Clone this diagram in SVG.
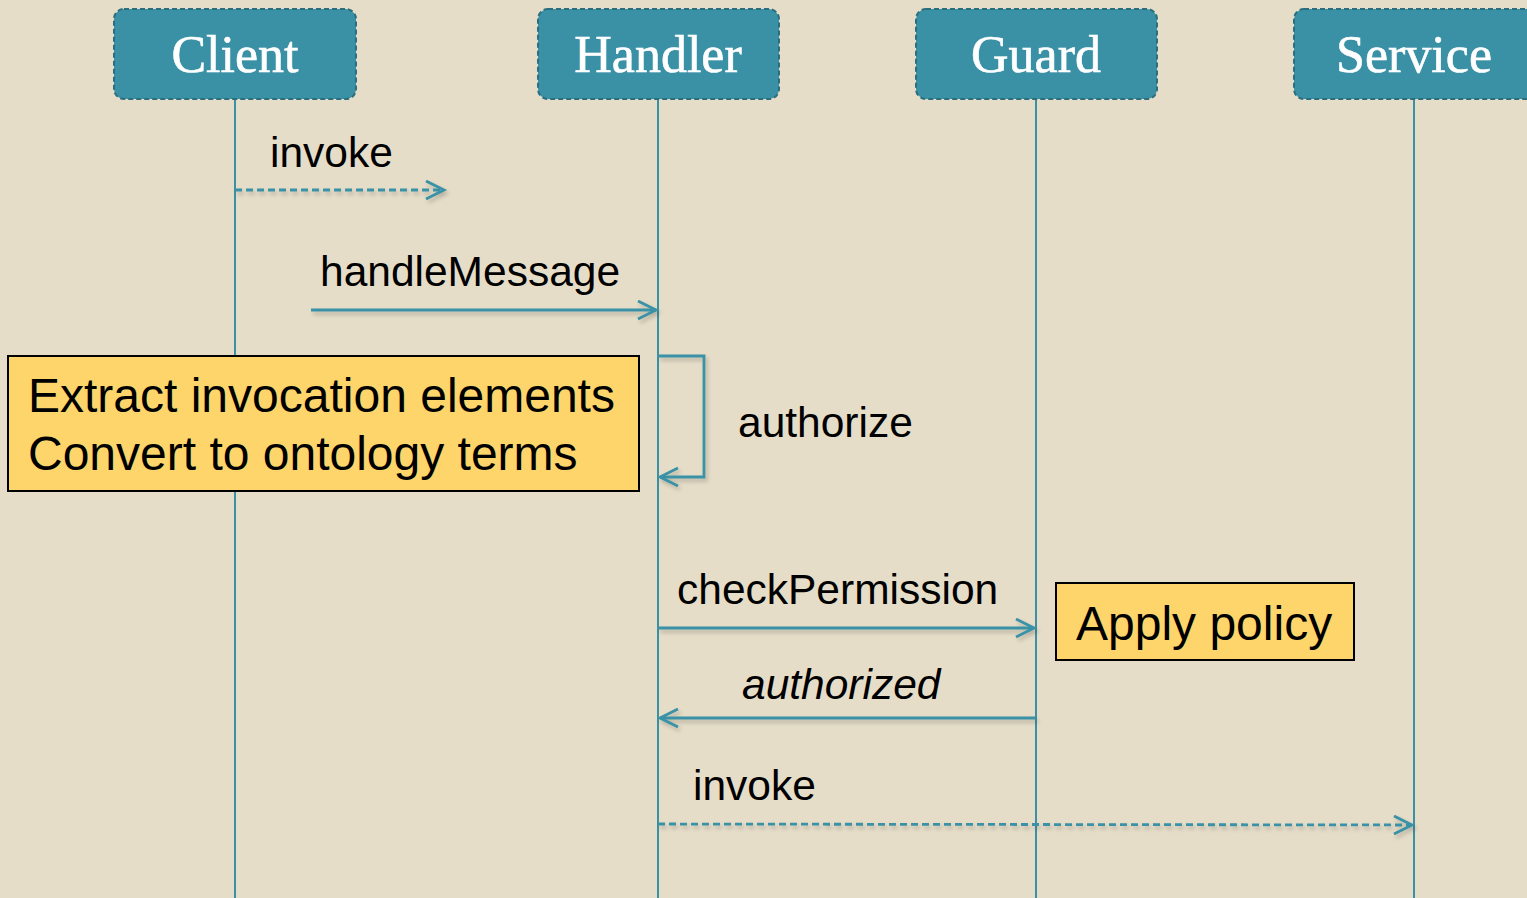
<svg xmlns="http://www.w3.org/2000/svg" width="1527" height="898" viewBox="0 0 1527 898">
  <style>
    .head rect { fill: #3A91A6; stroke: #2A6E7F; stroke-width: 2; stroke-dasharray: 5 3; }
    .head text { font-family: "Liberation Serif", "DejaVu Serif", serif; font-size: 52px; fill: #FFFFFF; stroke: #FFFFFF; stroke-width: 0.6; text-anchor: middle; }
    .life { stroke: #3A91A6; stroke-width: 2; fill: none; }
    .msg { stroke: #3A91A6; stroke-width: 2.8; fill: none; }
    .dash { stroke-dasharray: 7 4; }
    .lbl { font-family: "Liberation Sans", Arial, sans-serif; font-size: 42.5px; fill: #000; }
    .note rect { fill: #FDD56B; stroke: #000; stroke-width: 2; }
    .note text { font-family: "Liberation Sans", Arial, sans-serif; font-size: 48px; fill: #000; }
  </style>
  <defs>
    <marker id="open" markerUnits="userSpaceOnUse" markerWidth="24" markerHeight="24" refX="20" refY="10" orient="auto">
      <path d="M2,1 L20,10 L2,19" fill="none" stroke="#3A91A6" stroke-width="2.8"/>
    </marker>
    <filter id="shade" filterUnits="userSpaceOnUse" x="0" y="0" width="1527" height="898">
      <feGaussianBlur in="SourceAlpha" stdDeviation="2"/>
      <feOffset dx="2" dy="3" result="b"/>
      <feComponentTransfer><feFuncA type="linear" slope="0.22"/></feComponentTransfer>
      <feMerge><feMergeNode/><feMergeNode in="SourceGraphic"/></feMerge>
    </filter>
  </defs>

  <rect width="1527" height="898" fill="#E5DDC8"/>

  <!-- lifelines -->
  <g id="lifelines">
    <line class="life" x1="235" y1="99" x2="235" y2="898"/>
    <line class="life" x1="658" y1="99" x2="658" y2="898"/>
    <line class="life" x1="1036" y1="99" x2="1036" y2="898"/>
    <line class="life" x1="1414" y1="99" x2="1414" y2="898"/>
  </g>

  <!-- participants -->
  <g id="client" class="head">
    <rect x="114" y="9" width="242" height="90" rx="10"/>
    <text x="235" y="72">Client</text>
  </g>
  <g id="handler" class="head">
    <rect x="538" y="9" width="241" height="90" rx="10"/>
    <text x="658" y="72">Handler</text>
  </g>
  <g id="guard" class="head">
    <rect x="916" y="9" width="241" height="90" rx="10"/>
    <text x="1036" y="72">Guard</text>
  </g>
  <g id="service" class="head">
    <rect x="1294" y="9" width="245" height="90" rx="10"/>
    <text x="1414" y="72">Service</text>
  </g>

  <!-- messages -->
  <g id="connectors" filter="url(#shade)">
    <line class="msg dash" x1="235" y1="190" x2="444" y2="190" marker-end="url(#open)"/>
    <line class="msg" x1="311" y1="310" x2="656" y2="310" marker-end="url(#open)"/>
    <polyline class="msg" points="658,356 704,356 704,477 660,477" marker-end="url(#open)"/>
    <line class="msg" x1="658" y1="628" x2="1034" y2="628" marker-end="url(#open)"/>
    <line class="msg" x1="1036" y1="718" x2="660" y2="718" marker-end="url(#open)"/>
    <line class="msg dash" x1="658" y1="824" x2="1412" y2="825" marker-end="url(#open)"/>
  </g>

  <!-- message labels -->
  <g id="labels">
    <text class="lbl" x="270" y="167">invoke</text>
    <text class="lbl" x="320" y="286">handleMessage</text>
    <text class="lbl" x="738" y="437">authorize</text>
    <text class="lbl" x="677" y="604">checkPermission</text>
    <text class="lbl" x="742" y="699" font-style="italic">authorized</text>
    <text class="lbl" x="693" y="800">invoke</text>
  </g>

  <!-- notes -->
  <g id="note-extract" class="note">
    <rect x="8" y="356" width="631" height="135"/>
    <text x="28" y="412">Extract invocation elements</text>
    <text x="28" y="470">Convert to ontology terms</text>
  </g>
  <g id="note-policy" class="note">
    <rect x="1056" y="583" width="298" height="77"/>
    <text x="1076" y="640">Apply policy</text>
  </g>
</svg>
